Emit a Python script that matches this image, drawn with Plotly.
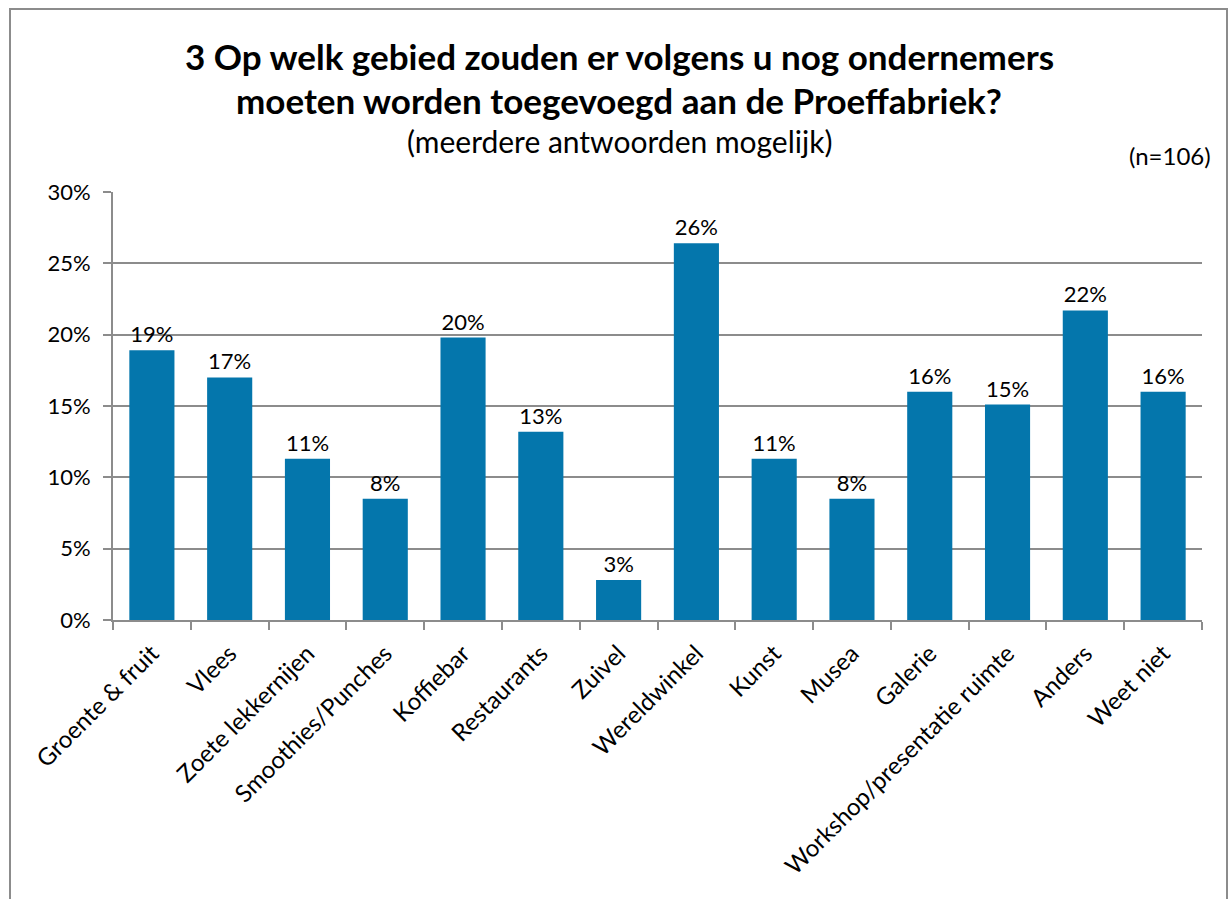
import plotly.graph_objects as go

categories = ["Groente & fruit", "Vlees", "Zoete lekkernijen", "Smoothies/Punches",
              "Koffiebar", "Restaurants", "Zuivel", "Wereldwinkel", "Kunst", "Musea",
              "Galerie", "Workshop/presentatie ruimte", "Anders", "Weet niet"]
percentages = [18.9, 17.0, 11.3, 8.5, 19.8, 13.2, 2.8, 26.4, 11.3, 8.5, 16.0, 15.1, 21.7, 16.0]
y_ticks = [0, 5, 10, 15, 20, 25, 30]

FONT = "Lato"
BAR = "#0476AC"
GRID = "#8C8C8C"

fig = go.Figure()
fig.add_trace(go.Bar(
    x=categories, y=percentages,
    marker=dict(color=BAR, line=dict(width=0)),
    text=[f"{v:.0f}%" for v in percentages],
    textposition="outside", cliponaxis=False,
    textfont=dict(family=FONT, size=22, color="#000000"),
))

fig.update_layout(
    width=1230, height=899,
    margin=dict(l=113, r=28, t=192, b=279),
    paper_bgcolor="white", plot_bgcolor="white",
    bargap=0.42, showlegend=False,
    font=dict(family=FONT, size=22, color="#000000"),
    xaxis=dict(
        tickangle=-45, tickson="boundaries", ticks="outside", ticklen=8,
        tickcolor=GRID, tickwidth=2, showline=True, linecolor=GRID, linewidth=2,
        tickfont=dict(family=FONT, size=24), showgrid=False, ticklabelstandoff=8,
    ),
    yaxis=dict(
        range=[0, 30], tickvals=y_ticks, ticktext=[f"{v}%" for v in y_ticks],
        ticks="outside", ticklen=8, tickcolor=GRID, tickwidth=2,
        showline=True, linecolor=GRID, linewidth=2,
        showgrid=True, gridcolor=GRID, gridwidth=2, zeroline=False,
        tickfont=dict(family=FONT, size=22), ticklabelstandoff=8,
    ),
    annotations=[
        dict(text="<b>3 Op welk gebied zouden er volgens u nog ondernemers</b>",
             xref="paper", yref="paper", x=0.465, y=(620 - 56) / 428,
             showarrow=False, font=dict(family=FONT, size=35), yanchor="middle"),
        dict(text="<b>moeten worden toegevoegd aan de Proeffabriek?</b>",
             xref="paper", yref="paper", x=0.465, y=(620 - 100) / 428,
             showarrow=False, font=dict(family=FONT, size=35), yanchor="middle"),
        dict(text="(meerdere antwoorden mogelijk)",
             xref="paper", yref="paper", x=0.465, y=(620 - 141) / 428,
             showarrow=False, font=dict(family=FONT, size=30), yanchor="middle"),
        dict(text="(n=106)",
             xref="paper", yref="paper", x=1.01, y=(620 - 155) / 428,
             showarrow=False, font=dict(family=FONT, size=24),
             xanchor="right", yanchor="middle"),
    ],
    shapes=[dict(type="rect", xref="paper", yref="paper",
                 x0=(10 - 113) / 1089, x1=(1227 - 113) / 1089,
                 y0=-0.8, y1=(620 - 9) / 428,
                 line=dict(color="#8C8C8C", width=2), layer="below")],
)

fig.write_html("out.html", config={"displayModeBar": False},
               post_script="document.body.style.margin='0';")
